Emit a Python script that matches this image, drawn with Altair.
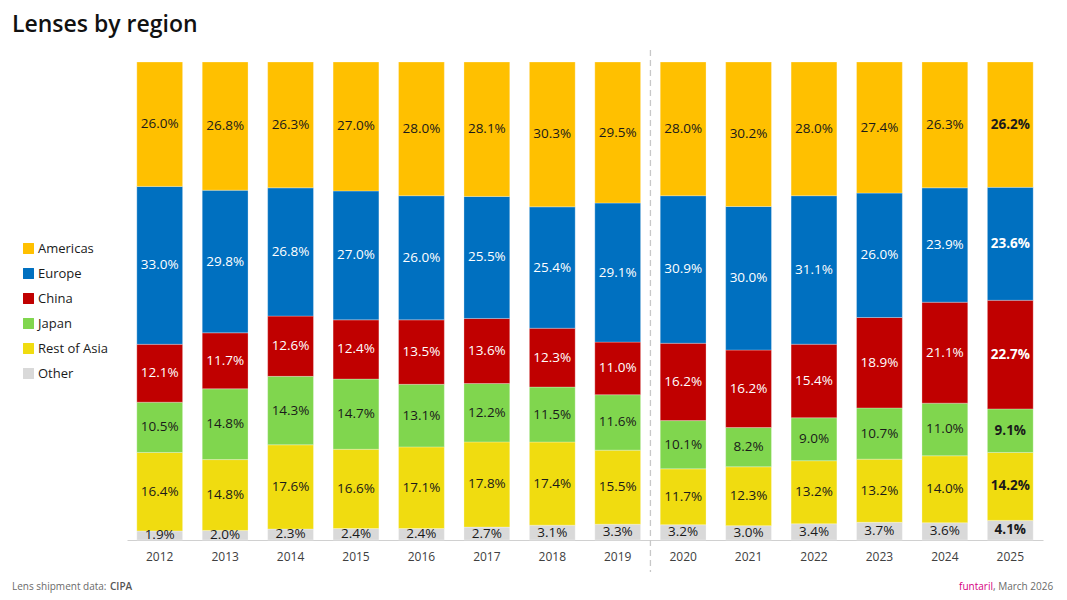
import altair as alt
import pandas as pd

years = [str(y) for y in range(2012, 2026)]
regions = ["Americas", "Europe", "China", "Japan", "Rest of Asia", "Other"]
colors = ["#FFC000", "#0070C0", "#C00000", "#80D64E", "#F0DC10", "#D9D9D9"]
stack_order = [6, 5, 4, 3, 2, 1]  # 1 = bottom

americas = [26.0, 26.8, 26.3, 27.0, 28.0, 28.1, 30.3, 29.5, 28.0, 30.2, 28.0, 27.4, 26.3, 26.2]
europe = [33.0, 29.8, 26.8, 27.0, 26.0, 25.5, 25.4, 29.1, 30.9, 30.0, 31.1, 26.0, 23.9, 23.6]
china = [12.1, 11.7, 12.6, 12.4, 13.5, 13.6, 12.3, 11.0, 16.2, 16.2, 15.4, 18.9, 21.1, 22.7]
japan = [10.5, 14.8, 14.3, 14.7, 13.1, 12.2, 11.5, 11.6, 10.1, 8.2, 9.0, 10.7, 11.0, 9.1]
rest_of_asia = [16.4, 14.8, 17.6, 16.6, 17.1, 17.8, 17.4, 15.5, 11.7, 12.3, 13.2, 13.2, 14.0, 14.2]
other = [1.9, 2.0, 2.3, 2.4, 2.4, 2.7, 3.1, 3.3, 3.2, 3.0, 3.4, 3.7, 3.6, 4.1]

series = [americas, europe, china, japan, rest_of_asia, other]
rows = []
for r, vals, o in zip(regions, series, stack_order):
    for y, v in zip(years, vals):
        rows.append({"year": y, "region": r, "value": v, "ord": o})
df = pd.DataFrame(rows)

W, H = 916, 478
FONT = "Open Sans"

base = alt.Chart(df).transform_joinaggregate(
    total="sum(value)", groupby=["year"]
).transform_calculate(
    pct="datum.value / datum.total"
).transform_window(
    cum="sum(pct)", groupby=["year"], sort=[alt.SortField("ord", order="ascending")],
    frame=[None, 0]
).transform_calculate(
    y0="datum.cum - datum.pct",
    mid="datum.cum - datum.pct / 2",
    label="format(datum.value, '.1f') + '%'",
    tcolor="(datum.region == 'Europe' || datum.region == 'China') ? '#ffffff' : '#1a1a1a'",
)

xscale = alt.Scale(paddingInner=0.3, paddingOuter=0.15)
xenc = alt.X("year:N", sort=years, title=None, scale=xscale,
             axis=alt.Axis(labelFont=FONT, labelFontSize=12, labelColor="#404040",
                           labelPadding=11, ticks=False, domainColor="#d0d0d0",
                           labelAngle=0))
yenc_axisless = alt.Y("mid:Q", scale=alt.Scale(domain=[0, 1]), axis=None)

bars = base.mark_bar(stroke="#ffffff", strokeWidth=0.8, strokeOpacity=0.35).encode(
    x=xenc,
    y=alt.Y("cum:Q", scale=alt.Scale(domain=[0, 1]), axis=None),
    y2="y0:Q",
    color=alt.Color("region:N", scale=alt.Scale(domain=regions, range=colors),
                    legend=alt.Legend(title=None, orient="none", legendX=-105, legendY=180,
                                      symbolType="square", symbolSize=120,
                                      symbolStrokeWidth=0,
                                      labelFont=FONT, labelFontSize=13,
                                      labelColor="#1a1a1a", rowPadding=11,
                                      labelOffset=3)),
    order=alt.Order("ord:Q"),
)

labels = base.transform_filter("datum.year != '2025'").mark_text(
    font=FONT, fontSize=13.5, baseline="middle"
).encode(
    x=alt.X("year:N", sort=years),
    y=yenc_axisless,
    text="label:N",
    color=alt.Color("tcolor:N", scale=None),
)

labels_bold = base.transform_filter("datum.year == '2025'").mark_text(
    font=FONT, fontSize=13.5, fontWeight="bold", baseline="middle"
).encode(
    x=alt.X("year:N", sort=years),
    y=yenc_axisless,
    text="label:N",
    color=alt.Color("tcolor:N", scale=None),
)

step = W / 14.0
divider = alt.Chart(pd.DataFrame({"year": ["2019"]})).mark_rule(
    color="#c8c8c8", strokeDash=[6, 4], strokeWidth=1.3, xOffset=step * 0.15
).encode(
    x=alt.X("year:N", sort=years, bandPosition=1),
    y=alt.value(-12),
    y2=alt.value(H + 32),
)

one = pd.DataFrame({"t": [""]})
title = alt.Chart(one).mark_text(
    text="Lenses by region", font=FONT, fontSize=23, fontWeight=600,
    align="left", baseline="alphabetic", color="#111111"
).encode(x=alt.value(-115), y=alt.value(-30))

foot1 = alt.Chart(one).mark_text(
    text="Lens shipment data:", font=FONT, fontSize=10, align="left",
    baseline="alphabetic", color="#6a6a6a"
).encode(x=alt.value(-115), y=alt.value(528))
foot2 = alt.Chart(one).mark_text(
    text="CIPA", font=FONT, fontSize=10, fontWeight=600, align="left",
    baseline="alphabetic", color="#555555"
).encode(x=alt.value(-17), y=alt.value(528))
foot3 = alt.Chart(one).mark_text(
    text=", March 2026", font=FONT, fontSize=10, align="left",
    baseline="alphabetic", color="#6a6a6a"
).encode(x=alt.value(866), y=alt.value(528))
foot4 = alt.Chart(one).mark_text(
    text="funtaril", font=FONT, fontSize=10, align="right",
    baseline="alphabetic", color="#d6007f"
).encode(x=alt.value(866), y=alt.value(528))

chart = alt.layer(bars, labels, labels_bold, divider, title, foot1, foot2, foot3, foot4).properties(
    width=W, height=H,
    autosize=alt.AutoSizeParams(type="none"),
    padding={"left": 127, "top": 62, "right": 24, "bottom": 60},
    background="#ffffff",
).configure_view(stroke=None)

chart.save("out.html", embed_options={"renderer": "svg", "actions": False})
